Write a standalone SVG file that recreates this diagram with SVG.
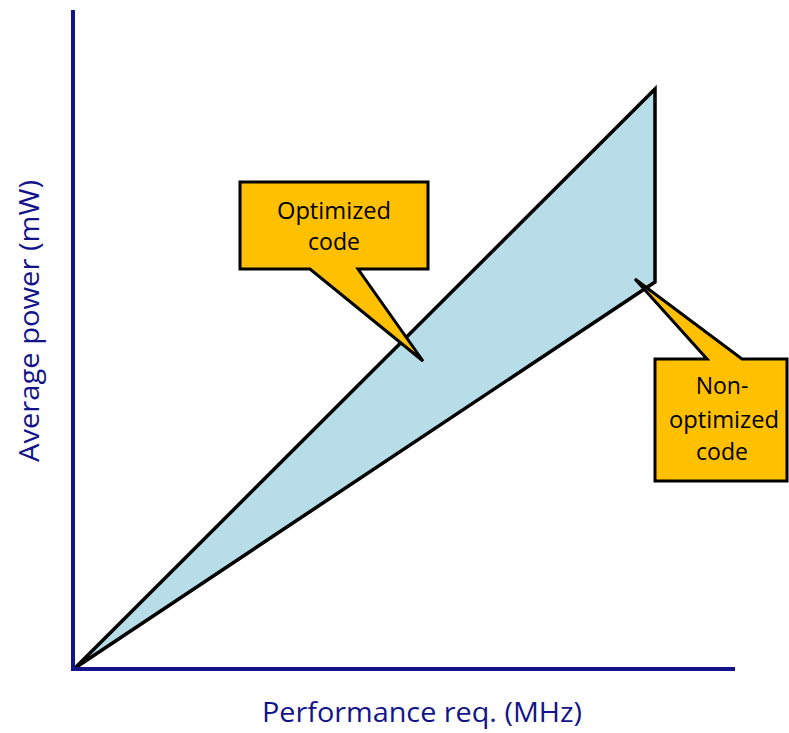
<svg xmlns="http://www.w3.org/2000/svg" width="789" height="733" viewBox="0 0 789 733">
  <style>
    .axis { stroke: #14148a; stroke-width: 4; fill: none; }
    .axis-label { font-family: "Open Sans", "Liberation Sans", sans-serif; font-size: 27px; fill: #14148a; }
    .callout { fill: #FFC000; stroke: #000; stroke-width: 3; stroke-linejoin: miter; }
    .callout-text { font-family: "Open Sans", "Liberation Sans", sans-serif; font-size: 23px; fill: #000; text-anchor: middle; }
    .region { fill: #B7DDE8; stroke: #000; stroke-width: 3.5; stroke-linejoin: miter; }
  </style>

  <!-- shaded power range between the two code variants -->
  <g id="power-range">
    <polygon class="region" points="75,668 655,89 655,282"/>
  </g>

  <!-- axes -->
  <g id="axes">
    <line class="axis" x1="73" y1="10" x2="73" y2="670"/>
    <line class="axis" x1="71" y1="669" x2="735" y2="669"/>
    <text class="axis-label" x="422" y="722" text-anchor="middle" textLength="320" lengthAdjust="spacingAndGlyphs">Performance req. (MHz)</text>
    <text class="axis-label" transform="translate(39,321) rotate(-90)" text-anchor="middle" textLength="282" lengthAdjust="spacingAndGlyphs">Average power (mW)</text>
  </g>

  <!-- callout: optimized code -->
  <g id="callout-optimized">
    <path class="callout" d="M240,182 H428 V269 H358 L423,361 L310,269 H240 Z"/>
    <text class="callout-text" x="334" y="219" textLength="114" lengthAdjust="spacingAndGlyphs">Optimized</text>
    <text class="callout-text" x="334" y="250">code</text>
  </g>

  <!-- callout: non-optimized code -->
  <g id="callout-nonoptimized">
    <path class="callout" d="M655,359 H707 L635,279 L742,359 H787 V481 H655 Z"/>
    <text class="callout-text" x="722" y="394">Non-</text>
    <text class="callout-text" x="724" y="428" textLength="110" lengthAdjust="spacingAndGlyphs">optimized</text>
    <text class="callout-text" x="722" y="460">code</text>
  </g>
</svg>
